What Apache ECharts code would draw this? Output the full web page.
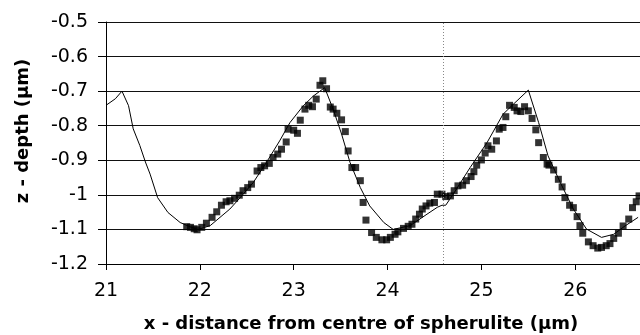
<!DOCTYPE html>
<html>
<head>
<meta charset="utf-8">
<script src="https://cdn.jsdelivr.net/npm/echarts@6/dist/echarts.min.js"></script>
<style>
    html, body { margin: 0; padding: 0; background: #fff; }
    #chart { width: 640px; height: 335px; }
</style>
</head>
<body>
<div id="chart"></div>
<script>
    // model curve
    var modelX = [21.00, 21.10, 21.17, 21.24, 21.29, 21.36, 21.42, 21.47, 21.55, 21.66, 21.79, 21.91, 21.98,
        22.11, 22.32, 22.43, 22.57, 22.71, 22.85, 22.96, 23.10, 23.21, 23.33, 23.42, 23.51, 23.60, 23.71,
        23.81, 23.96, 24.06, 24.24, 24.42, 24.53, 24.58, 24.62, 24.70, 24.88, 25.06, 25.23, 25.34, 25.50,
        25.61, 25.71, 25.84, 25.98, 26.12, 26.28, 26.41, 26.53, 26.67];
    var modelY = [-0.741, -0.722, -0.700, -0.742, -0.809, -0.857, -0.905, -0.940, -1.008, -1.051, -1.080, -1.094, -1.100,
        -1.089, -1.041, -1.008, -0.964, -0.906, -0.844, -0.791, -0.743, -0.714, -0.690, -0.752, -0.824, -0.906, -0.979,
        -1.032, -1.080, -1.100, -1.089, -1.056, -1.036, -1.030, -1.030, -0.998, -0.921, -0.849, -0.767, -0.738, -0.697,
        -0.791, -0.887, -0.964, -1.041, -1.099, -1.123, -1.114, -1.090, -1.065];

    // measured profile
    var measuredX = [21.86, 21.90, 21.94, 21.97, 22.02, 22.07, 22.13, 22.18, 22.23, 22.28, 22.32, 22.37, 22.42,
        22.46, 22.51, 22.55, 22.61, 22.65, 22.69, 22.74, 22.78, 22.83, 22.87, 22.92, 22.94, 23.00, 23.04, 23.07,
        23.12, 23.16, 23.20, 23.24, 23.28, 23.31, 23.35, 23.39, 23.42, 23.46, 23.51, 23.55, 23.58, 23.62, 23.66,
        23.71, 23.74, 23.77, 23.83, 23.88, 23.94, 23.99, 24.03, 24.08, 24.11, 24.17, 24.22, 24.26, 24.30, 24.34,
        24.37, 24.41, 24.45, 24.50, 24.53, 24.58, 24.62, 24.67, 24.71, 24.75, 24.80, 24.84, 24.89, 24.92, 24.95,
        25.00, 25.04, 25.07, 25.11, 25.16, 25.19, 25.23, 25.26, 25.30, 25.35, 25.38, 25.42, 25.46, 25.50, 25.54,
        25.58, 25.61, 25.66, 25.70, 25.72, 25.77, 25.82, 25.86, 25.89, 25.94, 25.98, 26.02, 26.05, 26.08, 26.14,
        26.19, 26.24, 26.28, 26.33, 26.37, 26.41, 26.46, 26.51, 26.57, 26.61, 26.65, 26.68];
    var measuredY = [-1.092, -1.094, -1.098, -1.101, -1.094, -1.082, -1.065, -1.049, -1.030, -1.020, -1.017, -1.010, -1.001,
        -0.988, -0.979, -0.969, -0.931, -0.921, -0.916, -0.909, -0.892, -0.882, -0.868, -0.847, -0.810, -0.813, -0.822, -0.784,
        -0.752, -0.741, -0.745, -0.723, -0.683, -0.670, -0.693, -0.746, -0.752, -0.764, -0.783, -0.817, -0.873, -0.921, -0.921,
        -0.959, -1.022, -1.073, -1.109, -1.123, -1.130, -1.130, -1.123, -1.114, -1.107, -1.097, -1.091, -1.085, -1.070, -1.056,
        -1.041, -1.032, -1.024, -1.022, -0.998, -0.998, -1.005, -1.003, -0.988, -0.974, -0.972, -0.959, -0.947, -0.933, -0.914,
        -0.899, -0.879, -0.858, -0.868, -0.844, -0.810, -0.805, -0.774, -0.741, -0.747, -0.757, -0.759, -0.745, -0.757, -0.779,
        -0.812, -0.849, -0.892, -0.911, -0.914, -0.928, -0.955, -0.977, -1.008, -1.030, -1.037, -1.063, -1.089, -1.111, -1.136,
        -1.147, -1.154, -1.152, -1.147, -1.141, -1.126, -1.111, -1.090, -1.070, -1.037, -1.020, -1.003];

    var xTicks = [21, 22, 23, 24, 25, 26];
    var markerX = 24.59;

    var zip = function (xs, ys) {
        var out = [];
        for (var i = 0; i < xs.length; i++) {
            out.push([xs[i], ys[i]]);
        }
        return out;
    };

    var font = 'DejaVu Sans';
    var chart = echarts.init(document.getElementById('chart'));
    chart.setOption({
        animation: false,
        backgroundColor: '#fff',
        grid: {
            left: 106, right: 0, top: 22, bottom: 71,
            containLabel: false,
            outerBoundsMode: 'none'
        },
        xAxis: {
            type: 'value',
            min: 21,
            max: 26.69,
            interval: 1,
            name: 'x - distance from centre of spherulite (\u03bcm)',
            nameLocation: 'middle',
            nameGap: 51,
            nameTextStyle: {
                fontFamily: font, fontSize: 18, fontWeight: 'bold', color: '#000',
                padding: [0, 24, 0, 0]
            },
            axisLine: { onZero: false, lineStyle: { color: '#000', width: 1 } },
            axisTick: { show: true, length: 6, customValues: xTicks, lineStyle: { color: '#000' } },
            axisLabel: {
                customValues: xTicks,
                margin: 18,
                fontFamily: font, fontSize: 19, color: '#000'
            },
            splitLine: { show: false }
        },
        yAxis: {
            type: 'value',
            min: -1.2,
            max: -0.5,
            interval: 0.1,
            name: 'z - depth (\u03bcm)',
            nameLocation: 'middle',
            nameGap: 74,
            nameRotate: 90,
            nameTextStyle: {
                fontFamily: font, fontSize: 18, fontWeight: 'bold', color: '#000',
                padding: [0, 0, 0, 24]
            },
            axisLine: { show: true, onZero: false, lineStyle: { color: '#000', width: 1 } },
            axisTick: { show: true, length: 8, lineStyle: { color: '#000' } },
            axisLabel: {
                margin: 18,
                fontFamily: font, fontSize: 19, color: '#000'
            },
            splitLine: { show: true, lineStyle: { color: '#111', width: 1 } }
        },
        series: [
            {
                name: 'model',
                type: 'line',
                data: zip(modelX, modelY),
                showSymbol: false,
                symbol: 'none',
                lineStyle: { color: '#000', width: 1 },
                z: 2
            },
            {
                name: 'measured',
                type: 'scatter',
                data: zip(measuredX, measuredY),
                symbol: 'rect',
                symbolSize: 7,
                itemStyle: { color: '#000' },
                z: 3,
                markLine: {
                    silent: true,
                    symbol: 'none',
                    label: { show: false },
                    lineStyle: { color: '#888', type: [1, 2], width: 1 },
                    data: [{ xAxis: markerX }]
                }
            }
        ]
    });
</script>
</body>
</html>
